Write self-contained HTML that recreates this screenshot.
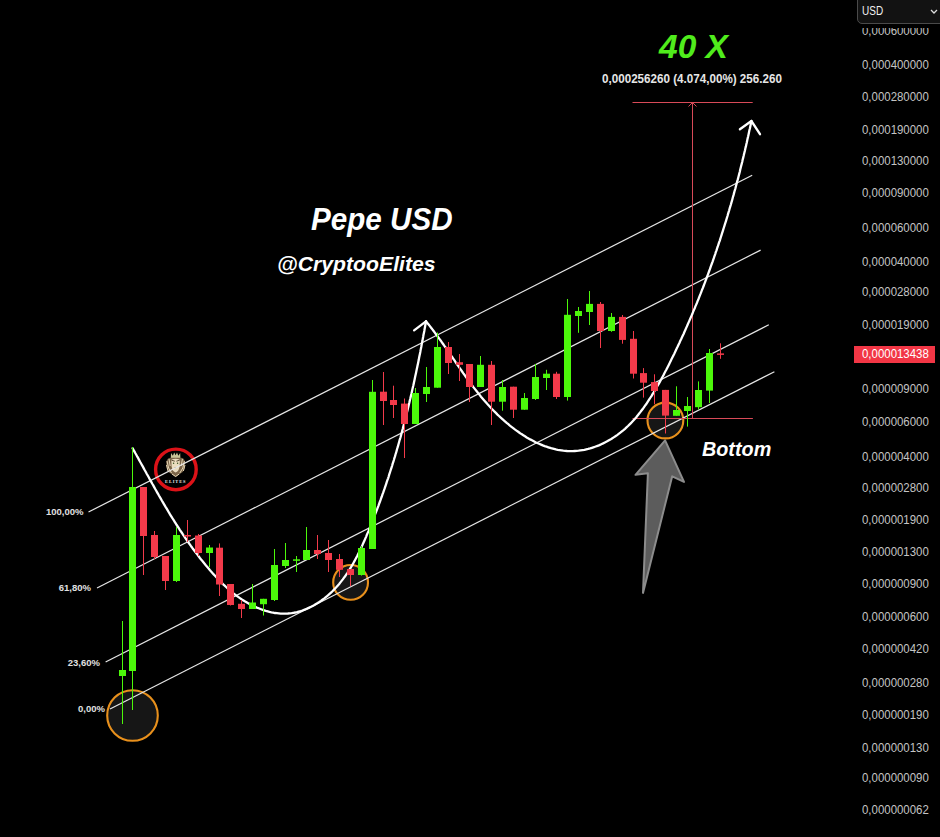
<!DOCTYPE html>
<html><head><meta charset="utf-8"><style>
html,body{margin:0;padding:0;background:#000;}
body{width:940px;height:837px;position:relative;overflow:hidden;font-family:"Liberation Sans",sans-serif;}
svg{position:absolute;left:0;top:0;}
.pl{position:absolute;left:862px;height:14px;line-height:14px;font-size:13px;color:#c4c4c4;white-space:nowrap;transform:scaleX(0.88);transform-origin:0 0;}
.fib{position:absolute;font-size:9.5px;font-weight:bold;color:#e0e0e0;text-align:right;width:60px;line-height:12px;}
.t{position:absolute;white-space:nowrap;font-weight:bold;transform-origin:0 0;}
</style></head><body>
<svg width="940" height="837" viewBox="0 0 940 837">
<circle cx="132.5" cy="715.5" r="25.3" fill="#181818" fill-opacity="0.9" stroke="#e8901c" stroke-width="2.1"/>
<circle cx="350.6" cy="582.4" r="17.4" fill="#181818" fill-opacity="0.9" stroke="#e8901c" stroke-width="2.1"/>
<circle cx="665.4" cy="420.5" r="17.9" fill="#181818" fill-opacity="0.9" stroke="#e8901c" stroke-width="2.1"/>
<circle cx="175.9" cy="469.4" r="20.3" fill="#000" stroke="#dc1218" stroke-width="3.4"/>
<polygon points="170.8,458.5 171,453 172.9,455.8 174.2,452.5 175.6,455.3 177,452.5 178.3,455.8 180.2,453 180.4,458.5" fill="#c9c498"/>
<path d="M166.2,462 Q167.5,457.5 171,457.8 L180.5,457.8 Q184,457.5 185.2,462 L184.6,468.5 Q183.2,472.5 180.5,473.5 L175.6,477 L170.7,473.5 Q168,472.5 166.8,468.5 Z" fill="#7a6448"/>
<path d="M167,461 L168.6,468 L171.5,473 M184.4,461 L182.8,468 L179.8,473 M169,459 L170.2,466 M182.4,459 L181.2,466 M166.5,465 L168,471 M185,465 L183.4,471 M172,474 L175.6,476.5 L179.2,474" stroke="#e6d6b4" stroke-width="1" fill="none"/>
<path d="M171.3,459.8 Q175.6,457.8 179.9,459.8 L179.6,466.5 Q178.6,471.8 175.6,472.5 Q172.6,471.8 171.6,466.5 Z" fill="#eadcbf"/>
<path d="M171.5,460.2 L174.8,461.2 M179.7,460.2 L176.4,461.2" stroke="#3a2a18" stroke-width="0.8"/>
<circle cx="173.6" cy="463.2" r="0.7" fill="#355020"/>
<circle cx="177.6" cy="463.2" r="0.7" fill="#355020"/>
<path d="M174.4,467 L176.8,467 L175.6,468.3 Z" fill="#2a1a10"/>
<text x="175.7" y="483" font-family="Liberation Serif" font-size="4.4" font-weight="bold" fill="#e8e8e8" text-anchor="middle" letter-spacing="0.9">ELITES</text>
<line x1="88.5" y1="512" x2="752.2" y2="175.3" stroke="#e6e6e6" stroke-width="1.2"/>
<line x1="97" y1="588" x2="760.6" y2="250.1" stroke="#e6e6e6" stroke-width="1.2"/>
<line x1="105.6" y1="662" x2="768.8" y2="324.8" stroke="#e6e6e6" stroke-width="1.2"/>
<line x1="110" y1="709" x2="774.4" y2="371.7" stroke="#e6e6e6" stroke-width="1.2"/>
<line x1="632.5" y1="102.5" x2="752.7" y2="102.5" stroke="#d84a58" stroke-width="1"/>
<line x1="632.5" y1="418.5" x2="752.9" y2="418.5" stroke="#d84a58" stroke-width="1"/>
<line x1="692.5" y1="102.5" x2="692.5" y2="418.5" stroke="#d84a58" stroke-width="1"/>
<path d="M688.5,106.5 L692.5,102.5 L696.5,106.5" fill="none" stroke="#d84a58" stroke-width="1"/>
<path d="M132.6,448.2 L133.5,449.9 L134.5,451.6 L135.4,453.3 L136.4,455.0 L137.3,456.7 L138.3,458.4 L139.2,460.1 L140.1,461.8 L141.1,463.5 L142.0,465.2 L143.0,466.9 L143.9,468.6 L144.8,470.3 L145.8,472.0 L146.7,473.7 L147.6,475.3 L148.6,477.0 L149.5,478.7 L150.4,480.4 L151.4,482.1 L152.3,483.8 L153.3,485.4 L154.2,487.1 L155.1,488.8 L156.1,490.5 L157.0,492.1 L158.0,493.8 L158.9,495.5 L159.9,497.1 L160.9,498.8 L161.8,500.5 L162.8,502.1 L163.8,503.8 L164.7,505.4 L165.7,507.1 L166.7,508.7 L167.7,510.4 L168.6,512.0 L169.6,513.7 L170.6,515.3 L171.6,516.9 L172.6,518.5 L173.7,520.2 L174.7,521.8 L175.7,523.4 L176.7,525.0 L177.8,526.6 L178.8,528.2 L179.8,529.8 L180.9,531.4 L182.0,533.0 L183.0,534.6 L184.1,536.2 L185.2,537.8 L186.3,539.4 L187.4,541.0 L188.5,542.5 L189.6,544.1 L190.7,545.7 L191.8,547.2 L192.9,548.8 L194.1,550.3 L195.2,551.9 L196.4,553.4 L197.6,554.9 L198.8,556.5 L199.9,558.0 L201.1,559.5 L202.4,561.0 L203.6,562.5 L204.8,564.0 L206.0,565.5 L207.3,567.0 L208.6,568.5 L209.8,570.0 L211.1,571.5 L212.4,572.9 L213.7,574.4 L215.0,575.8 L216.4,577.3 L217.7,578.7 L219.1,580.1 L220.4,581.5 L221.8,582.9 L223.2,584.3 L224.7,585.6 L226.1,587.0 L227.6,588.3 L229.0,589.6 L230.5,590.9 L232.0,592.1 L233.5,593.4 L235.1,594.6 L236.7,595.8 L238.2,596.9 L239.9,598.1 L241.5,599.2 L243.1,600.2 L244.8,601.3 L246.5,602.3 L248.2,603.3 L249.9,604.2 L251.6,605.1 L253.4,606.0 L255.1,606.8 L256.9,607.6 L258.7,608.3 L260.5,609.0 L262.3,609.7 L264.1,610.3 L265.9,610.9 L267.7,611.4 L269.5,611.9 L271.4,612.3 L273.2,612.6 L275.0,613.0 L276.9,613.2 L278.7,613.4 L280.6,613.6 L282.4,613.6 L284.2,613.7 L286.1,613.6 L287.9,613.5 L289.7,613.3 L291.6,613.1 L293.4,612.8 L295.2,612.5 L297.0,612.1 L298.8,611.6 L300.6,611.1 L302.4,610.5 L304.1,609.8 L305.9,609.2 L307.6,608.4 L309.3,607.6 L311.0,606.8 L312.7,605.9 L314.4,605.0 L316.0,604.0 L317.7,603.0 L319.3,602.0 L320.9,600.9 L322.4,599.8 L324.0,598.6 L325.5,597.4 L327.0,596.2 L328.5,594.9 L329.9,593.6 L331.3,592.3 L332.7,591.0 L334.0,589.6 L335.4,588.2 L336.7,586.8 L337.9,585.4 L339.2,583.9 L340.4,582.4 L341.6,580.9 L342.8,579.4 L343.9,577.9 L345.1,576.3 L346.2,574.7 L347.3,573.1 L348.3,571.5 L349.4,569.9 L350.4,568.2 L351.4,566.5 L352.4,564.8 L353.3,563.2 L354.3,561.4 L355.2,559.7 L356.1,558.0 L357.1,556.2 L357.9,554.5 L358.8,552.7 L359.7,551.0 L360.5,549.2 L361.4,547.4 L362.2,545.6 L363.0,543.8 L363.8,542.0 L364.6,540.2 L365.4,538.4 L366.2,536.6 L366.9,534.7 L367.7,532.9 L368.5,531.1 L369.2,529.3 L370.0,527.5 L370.7,525.6 L371.4,523.8 L372.2,522.0 L372.9,520.2 L373.6,518.4 L374.3,516.5 L375.0,514.7 L375.7,512.9 L376.4,511.1 L377.1,509.3 L377.8,507.4 L378.5,505.6 L379.1,503.8 L379.8,502.0 L380.5,500.2 L381.1,498.3 L381.8,496.5 L382.4,494.7 L383.1,492.9 L383.7,491.1 L384.4,489.2 L385.0,487.4 L385.6,485.6 L386.2,483.8 L386.8,481.9 L387.4,480.1 L388.1,478.3 L388.7,476.5 L389.2,474.6 L389.8,472.8 L390.4,471.0 L391.0,469.2 L391.6,467.3 L392.2,465.5 L392.7,463.7 L393.3,461.8 L393.9,460.0 L394.4,458.2 L395.0,456.4 L395.5,454.5 L396.1,452.7 L396.6,450.9 L397.1,449.0 L397.7,447.2 L398.2,445.4 L398.7,443.5 L399.2,441.7 L399.7,439.8 L400.3,438.0 L400.8,436.2 L401.3,434.3 L401.8,432.5 L402.3,430.6 L402.8,428.8 L403.2,426.9 L403.7,425.1 L404.2,423.2 L404.7,421.4 L405.2,419.5 L405.6,417.7 L406.1,415.8 L406.6,414.0 L407.0,412.1 L407.5,410.3 L407.9,408.4 L408.4,406.6 L408.8,404.7 L409.3,402.8 L409.7,401.0 L410.2,399.1 L410.6,397.3 L411.0,395.4 L411.5,393.5 L411.9,391.7 L412.3,389.8 L412.7,387.9 L413.2,386.0 L413.6,384.2 L414.0,382.3 L414.4,380.4 L414.8,378.5 L415.2,376.6 L415.6,374.8 L416.0,372.9 L416.4,371.0 L416.8,369.1 L417.2,367.2 L417.6,365.3 L418.0,363.4 L418.4,361.5 L418.8,359.6 L419.1,357.7 L419.5,355.8 L419.9,353.9 L420.3,352.0 L420.6,350.1 L421.0,348.2 L421.4,346.3 L421.7,344.4 L422.1,342.5 L422.5,340.6 L422.8,338.7 L423.2,336.7 L423.5,334.8 L423.9,332.9 L424.3,331.0 L424.6,329.0 L425.0,327.1 L425.3,325.2 L425.7,323.2 L426.0,321.3" fill="none" stroke="#fff" stroke-width="2.3" stroke-linecap="round"/>
<path d="M414.1,330.4 L426,321.3" fill="none" stroke="#fff" stroke-width="2.3" stroke-linecap="round" stroke-linejoin="round"/>
<path d="M426.0,321.3 L427.3,322.9 L428.6,324.5 L429.9,326.1 L431.1,327.7 L432.4,329.4 L433.6,331.0 L434.8,332.6 L436.0,334.2 L437.2,335.8 L438.4,337.5 L439.6,339.1 L440.8,340.7 L441.9,342.3 L443.1,344.0 L444.2,345.6 L445.4,347.2 L446.5,348.8 L447.6,350.5 L448.7,352.1 L449.9,353.7 L451.0,355.3 L452.1,357.0 L453.2,358.6 L454.3,360.2 L455.4,361.8 L456.5,363.5 L457.6,365.1 L458.7,366.7 L459.9,368.3 L461.0,369.9 L462.1,371.5 L463.2,373.1 L464.4,374.7 L465.5,376.3 L466.6,377.9 L467.8,379.5 L468.9,381.1 L470.1,382.7 L471.3,384.2 L472.5,385.8 L473.6,387.4 L474.8,388.9 L476.1,390.5 L477.3,392.0 L478.5,393.6 L479.8,395.1 L481.0,396.7 L482.3,398.2 L483.6,399.7 L484.9,401.2 L486.3,402.8 L487.6,404.3 L489.0,405.8 L490.3,407.2 L491.7,408.7 L493.2,410.2 L494.6,411.7 L496.1,413.1 L497.5,414.6 L499.0,416.0 L500.5,417.4 L502.1,418.8 L503.6,420.2 L505.2,421.6 L506.7,422.9 L508.3,424.2 L509.9,425.6 L511.5,426.8 L513.2,428.1 L514.8,429.4 L516.5,430.6 L518.2,431.8 L519.8,433.0 L521.5,434.1 L523.3,435.2 L525.0,436.3 L526.7,437.4 L528.5,438.4 L530.2,439.4 L532.0,440.3 L533.8,441.3 L535.5,442.2 L537.3,443.0 L539.1,443.8 L541.0,444.6 L542.8,445.4 L544.6,446.1 L546.5,446.7 L548.3,447.3 L550.2,447.9 L552.0,448.5 L553.9,448.9 L555.8,449.4 L557.6,449.8 L559.5,450.1 L561.4,450.4 L563.3,450.7 L565.2,450.8 L567.1,451.0 L569.0,451.1 L570.9,451.1 L572.8,451.1 L574.8,451.0 L576.7,450.9 L578.6,450.7 L580.5,450.4 L582.4,450.1 L584.4,449.8 L586.3,449.3 L588.2,448.9 L590.1,448.4 L592.0,447.8 L593.9,447.2 L595.7,446.5 L597.6,445.8 L599.5,445.1 L601.3,444.2 L603.1,443.4 L604.9,442.5 L606.7,441.6 L608.5,440.6 L610.3,439.6 L612.0,438.5 L613.7,437.4 L615.4,436.3 L617.1,435.1 L618.7,433.9 L620.3,432.7 L621.9,431.4 L623.5,430.1 L625.0,428.8 L626.5,427.4 L628.0,426.0 L629.4,424.6 L630.9,423.2 L632.2,421.7 L633.6,420.2 L635.0,418.7 L636.3,417.2 L637.6,415.6 L638.8,414.0 L640.1,412.4 L641.3,410.8 L642.5,409.2 L643.7,407.6 L644.9,405.9 L646.1,404.3 L647.2,402.6 L648.3,400.9 L649.4,399.2 L650.5,397.5 L651.6,395.8 L652.6,394.1 L653.7,392.4 L654.7,390.7 L655.7,389.0 L656.7,387.3 L657.7,385.5 L658.7,383.8 L659.7,382.1 L660.7,380.3 L661.6,378.6 L662.6,376.8 L663.5,375.1 L664.4,373.3 L665.3,371.5 L666.3,369.8 L667.2,368.0 L668.1,366.2 L669.0,364.4 L669.9,362.6 L670.7,360.9 L671.6,359.1 L672.5,357.3 L673.4,355.5 L674.3,353.7 L675.1,351.9 L676.0,350.1 L676.8,348.3 L677.7,346.5 L678.5,344.7 L679.4,342.9 L680.2,341.1 L681.1,339.3 L681.9,337.5 L682.7,335.7 L683.6,333.9 L684.4,332.0 L685.2,330.2 L686.0,328.4 L686.8,326.6 L687.6,324.8 L688.4,322.9 L689.2,321.1 L690.0,319.3 L690.8,317.4 L691.6,315.6 L692.4,313.8 L693.1,311.9 L693.9,310.1 L694.7,308.2 L695.4,306.4 L696.2,304.6 L697.0,302.7 L697.7,300.9 L698.5,299.0 L699.2,297.2 L699.9,295.3 L700.7,293.4 L701.4,291.6 L702.1,289.7 L702.9,287.9 L703.6,286.0 L704.3,284.1 L705.0,282.3 L705.7,280.4 L706.4,278.5 L707.1,276.7 L707.8,274.8 L708.5,272.9 L709.2,271.0 L709.9,269.2 L710.5,267.3 L711.2,265.4 L711.9,263.5 L712.6,261.6 L713.2,259.8 L713.9,257.9 L714.5,256.0 L715.2,254.1 L715.8,252.2 L716.5,250.3 L717.1,248.4 L717.8,246.5 L718.4,244.6 L719.0,242.7 L719.7,240.8 L720.3,238.9 L720.9,237.0 L721.5,235.1 L722.1,233.2 L722.7,231.3 L723.3,229.4 L723.9,227.5 L724.5,225.6 L725.1,223.7 L725.7,221.8 L726.3,219.8 L726.9,217.9 L727.5,216.0 L728.0,214.1 L728.6,212.2 L729.2,210.3 L729.7,208.3 L730.3,206.4 L730.9,204.5 L731.4,202.6 L732.0,200.7 L732.5,198.7 L733.0,196.8 L733.6,194.9 L734.1,192.9 L734.6,191.0 L735.2,189.1 L735.7,187.2 L736.2,185.2 L736.7,183.3 L737.2,181.4 L737.8,179.4 L738.3,177.5 L738.8,175.5 L739.3,173.6 L739.8,171.7 L740.2,169.7 L740.7,167.8 L741.2,165.8 L741.7,163.9 L742.2,162.0 L742.6,160.0 L743.1,158.1 L743.6,156.1 L744.0,154.2 L744.5,152.2 L745.0,150.3 L745.4,148.3 L745.9,146.4 L746.3,144.4 L746.8,142.5 L747.2,140.5 L747.6,138.6 L748.1,136.6 L748.5,134.7 L748.9,132.7 L749.3,130.8 L749.8,128.8 L750.2,126.9 L750.6,124.9 L751.0,123.0 L751.4,121.0" fill="none" stroke="#fff" stroke-width="2.3" stroke-linecap="round"/>
<path d="M739.9,129.3 L751.4,121 L760,134.2" fill="none" stroke="#fff" stroke-width="2.3" stroke-linecap="round" stroke-linejoin="round"/>
<rect x="122" y="621.0" width="1" height="103.0" fill="#4cf80a"/>
<rect x="119" y="670.0" width="7" height="6.0" fill="#4cf80a"/>
<rect x="132" y="447.0" width="1" height="263.0" fill="#4cf80a"/>
<rect x="129" y="487.0" width="7" height="184.0" fill="#4cf80a"/>
<rect x="143" y="487.0" width="1" height="88.0" fill="#f23a4a"/>
<rect x="140" y="487.0" width="7" height="49.0" fill="#f23a4a"/>
<rect x="154" y="531.0" width="1" height="28.0" fill="#f23a4a"/>
<rect x="151" y="535.0" width="7" height="22.0" fill="#f23a4a"/>
<rect x="165" y="556.0" width="1" height="34.0" fill="#f23a4a"/>
<rect x="162" y="556.0" width="7" height="25.0" fill="#f23a4a"/>
<rect x="176" y="527.0" width="1" height="55.0" fill="#4cf80a"/>
<rect x="173" y="535.0" width="7" height="46.0" fill="#4cf80a"/>
<rect x="187" y="520.0" width="1" height="22.0" fill="#f23a4a"/>
<rect x="184" y="535.0" width="7" height="1.5" fill="#f23a4a"/>
<rect x="198" y="534.0" width="1" height="22.0" fill="#f23a4a"/>
<rect x="195" y="535.5" width="7" height="17.5" fill="#f23a4a"/>
<rect x="209" y="545.0" width="1" height="22.0" fill="#4cf80a"/>
<rect x="206" y="547.5" width="7" height="5.5" fill="#4cf80a"/>
<rect x="219" y="543.4" width="1" height="52.6" fill="#f23a4a"/>
<rect x="216" y="547.7" width="7" height="36.8" fill="#f23a4a"/>
<rect x="230" y="584.0" width="1" height="21.5" fill="#f23a4a"/>
<rect x="227" y="584.0" width="7" height="21.0" fill="#f23a4a"/>
<rect x="241" y="600.0" width="1" height="18.0" fill="#f23a4a"/>
<rect x="238" y="603.8" width="7" height="5.2" fill="#f23a4a"/>
<rect x="252" y="584.0" width="1" height="25.0" fill="#4cf80a"/>
<rect x="249" y="602.5" width="7" height="6.5" fill="#4cf80a"/>
<rect x="263" y="598.8" width="1" height="16.7" fill="#4cf80a"/>
<rect x="260" y="598.8" width="7" height="5.4" fill="#4cf80a"/>
<rect x="274" y="549.0" width="1" height="52.0" fill="#4cf80a"/>
<rect x="271" y="565.0" width="7" height="35.0" fill="#4cf80a"/>
<rect x="285" y="543.0" width="1" height="25.0" fill="#4cf80a"/>
<rect x="282" y="560.0" width="7" height="6.0" fill="#4cf80a"/>
<rect x="296" y="556.0" width="1" height="16.0" fill="#4cf80a"/>
<rect x="293" y="559.3" width="7" height="1.5" fill="#4cf80a"/>
<rect x="306" y="527.0" width="1" height="33.0" fill="#4cf80a"/>
<rect x="303" y="550.0" width="7" height="10.0" fill="#4cf80a"/>
<rect x="317" y="535.0" width="1" height="24.0" fill="#f23a4a"/>
<rect x="314" y="550.0" width="7" height="4.0" fill="#f23a4a"/>
<rect x="328" y="540.0" width="1" height="32.0" fill="#f23a4a"/>
<rect x="325" y="553.0" width="7" height="7.0" fill="#f23a4a"/>
<rect x="339" y="554.0" width="1" height="23.0" fill="#f23a4a"/>
<rect x="336" y="559.0" width="7" height="10.8" fill="#f23a4a"/>
<rect x="350" y="569.0" width="1" height="17.0" fill="#f23a4a"/>
<rect x="347" y="569.0" width="7" height="6.0" fill="#f23a4a"/>
<rect x="361" y="546.0" width="1" height="29.6" fill="#4cf80a"/>
<rect x="358" y="548.0" width="7" height="27.0" fill="#4cf80a"/>
<rect x="372" y="380.0" width="1" height="169.0" fill="#4cf80a"/>
<rect x="369" y="391.8" width="7" height="157.2" fill="#4cf80a"/>
<rect x="383" y="372.0" width="1" height="53.0" fill="#f23a4a"/>
<rect x="380" y="391.7" width="7" height="9.3" fill="#f23a4a"/>
<rect x="393" y="385.7" width="1" height="32.3" fill="#f23a4a"/>
<rect x="390" y="400.0" width="7" height="5.0" fill="#f23a4a"/>
<rect x="404" y="398.5" width="1" height="59.5" fill="#f23a4a"/>
<rect x="401" y="403.6" width="7" height="20.4" fill="#f23a4a"/>
<rect x="415" y="388.0" width="1" height="36.0" fill="#4cf80a"/>
<rect x="412" y="393.0" width="7" height="31.0" fill="#4cf80a"/>
<rect x="426" y="367.0" width="1" height="35.0" fill="#4cf80a"/>
<rect x="423" y="387.0" width="7" height="7.0" fill="#4cf80a"/>
<rect x="437" y="332.5" width="1" height="55.2" fill="#4cf80a"/>
<rect x="434" y="347.0" width="7" height="40.7" fill="#4cf80a"/>
<rect x="448" y="342.0" width="1" height="32.0" fill="#f23a4a"/>
<rect x="445" y="347.0" width="7" height="16.0" fill="#f23a4a"/>
<rect x="459" y="354.0" width="1" height="27.0" fill="#f23a4a"/>
<rect x="456" y="362.2" width="7" height="2.6" fill="#f23a4a"/>
<rect x="469" y="364.0" width="1" height="38.0" fill="#f23a4a"/>
<rect x="466" y="364.0" width="7" height="23.0" fill="#f23a4a"/>
<rect x="480" y="356.0" width="1" height="31.0" fill="#4cf80a"/>
<rect x="477" y="364.8" width="7" height="22.2" fill="#4cf80a"/>
<rect x="491" y="361.0" width="1" height="64.0" fill="#f23a4a"/>
<rect x="488" y="364.8" width="7" height="36.9" fill="#f23a4a"/>
<rect x="502" y="380.0" width="1" height="30.7" fill="#4cf80a"/>
<rect x="499" y="387.0" width="7" height="14.7" fill="#4cf80a"/>
<rect x="513" y="386.7" width="1" height="31.3" fill="#f23a4a"/>
<rect x="510" y="386.7" width="7" height="23.0" fill="#f23a4a"/>
<rect x="524" y="393.0" width="1" height="16.7" fill="#4cf80a"/>
<rect x="521" y="398.0" width="7" height="11.7" fill="#4cf80a"/>
<rect x="535" y="364.0" width="1" height="36.0" fill="#4cf80a"/>
<rect x="532" y="377.0" width="7" height="22.0" fill="#4cf80a"/>
<rect x="546" y="369.8" width="1" height="20.2" fill="#4cf80a"/>
<rect x="543" y="373.7" width="7" height="4.3" fill="#4cf80a"/>
<rect x="556" y="371.8" width="1" height="27.2" fill="#f23a4a"/>
<rect x="553" y="373.7" width="7" height="23.3" fill="#f23a4a"/>
<rect x="567" y="299.0" width="1" height="101.6" fill="#4cf80a"/>
<rect x="564" y="314.8" width="7" height="82.2" fill="#4cf80a"/>
<rect x="578" y="307.0" width="1" height="25.8" fill="#4cf80a"/>
<rect x="575" y="311.0" width="7" height="5.0" fill="#4cf80a"/>
<rect x="589" y="291.0" width="1" height="34.0" fill="#4cf80a"/>
<rect x="586" y="303.9" width="7" height="8.1" fill="#4cf80a"/>
<rect x="600" y="302.0" width="1" height="46.0" fill="#f23a4a"/>
<rect x="597" y="303.9" width="7" height="27.1" fill="#f23a4a"/>
<rect x="611" y="313.0" width="1" height="18.8" fill="#4cf80a"/>
<rect x="608" y="316.9" width="7" height="14.1" fill="#4cf80a"/>
<rect x="622" y="315.0" width="1" height="28.7" fill="#f23a4a"/>
<rect x="619" y="316.9" width="7" height="23.0" fill="#f23a4a"/>
<rect x="633" y="331.0" width="1" height="47.5" fill="#f23a4a"/>
<rect x="630" y="338.8" width="7" height="34.9" fill="#f23a4a"/>
<rect x="643" y="368.1" width="1" height="29.5" fill="#f23a4a"/>
<rect x="640" y="373.1" width="7" height="9.6" fill="#f23a4a"/>
<rect x="654" y="374.3" width="1" height="29.9" fill="#f23a4a"/>
<rect x="651" y="382.1" width="7" height="8.9" fill="#f23a4a"/>
<rect x="665" y="389.9" width="1" height="43.6" fill="#f23a4a"/>
<rect x="662" y="389.9" width="7" height="25.7" fill="#f23a4a"/>
<rect x="676" y="386.3" width="1" height="29.5" fill="#4cf80a"/>
<rect x="673" y="410.0" width="7" height="5.8" fill="#4cf80a"/>
<rect x="687" y="397.0" width="1" height="29.6" fill="#4cf80a"/>
<rect x="684" y="406.0" width="7" height="5.0" fill="#4cf80a"/>
<rect x="698" y="381.4" width="1" height="28.0" fill="#4cf80a"/>
<rect x="695" y="390.0" width="7" height="17.2" fill="#4cf80a"/>
<rect x="709" y="349.0" width="1" height="54.0" fill="#4cf80a"/>
<rect x="706" y="353.0" width="7" height="37.6" fill="#4cf80a"/>
<rect x="720" y="343.3" width="1" height="15.5" fill="#f23a4a"/>
<rect x="717" y="353.4" width="7" height="1.5" fill="#f23a4a"/>
<polygon points="665.1,440.4 684,481.9 672.2,476.3 643,592.9 647.9,473.3 635.5,474.8" fill="#5c5c5c" stroke="#8c8c8c" stroke-width="2" stroke-linejoin="round"/>

</svg>
<div style="position:absolute;left:850px;top:28px;width:90px;height:12px;overflow:hidden"><div class="pl" style="left:12px;top:-4.5px">0,000600000</div></div>
<div class="pl" style="top:58.3px">0,000400000</div>
<div class="pl" style="top:89.9px">0,000280000</div>
<div class="pl" style="top:122.7px">0,000190000</div>
<div class="pl" style="top:154.0px">0,000130000</div>
<div class="pl" style="top:185.6px">0,000090000</div>
<div class="pl" style="top:220.7px">0,000060000</div>
<div class="pl" style="top:255.1px">0,000040000</div>
<div class="pl" style="top:284.5px">0,000028000</div>
<div class="pl" style="top:317.9px">0,000019000</div>
<div class="pl" style="top:381.5px">0,000009000</div>
<div class="pl" style="top:414.9px">0,000006000</div>
<div class="pl" style="top:450.1px">0,000004000</div>
<div class="pl" style="top:480.9px">0,000002800</div>
<div class="pl" style="top:513.3px">0,000001900</div>
<div class="pl" style="top:545.3px">0,000001300</div>
<div class="pl" style="top:576.9px">0,000000900</div>
<div class="pl" style="top:609.8px">0,000000600</div>
<div class="pl" style="top:641.8px">0,000000420</div>
<div class="pl" style="top:675.6px">0,000000280</div>
<div class="pl" style="top:707.6px">0,000000190</div>
<div class="pl" style="top:740.5px">0,000000130</div>
<div class="pl" style="top:771.2px">0,000000090</div>
<div class="pl" style="top:802.8px">0,000000062</div>
<div style="position:absolute;left:857px;top:-5px;width:90px;height:29px;box-sizing:border-box;background:#121212;border:1px solid #4a4a4a;border-radius:5px;"></div>
<div style="position:absolute;left:861.5px;top:4px;font-size:12.5px;line-height:14px;color:#f0f0f0;transform:scaleX(0.8);transform-origin:0 0;">USD</div>
<svg style="left:930px;top:9px" width="8" height="5" viewBox="0 0 8 5"><path d="M1,1 L4,4 L7,1" fill="none" stroke="#ddd" stroke-width="1.3"/></svg>
<div style="position:absolute;left:854px;top:346px;width:81px;height:17px;background:#f23645;"></div>
<div class="pl" style="top:346.5px;color:#fff">0,000013438</div>
<div class="fib" style="left:23.5px;top:506px">100,00%</div>
<div class="fib" style="left:31px;top:581.5px">61,80%</div>
<div class="fib" style="left:40px;top:656.5px">23,60%</div>
<div class="fib" style="left:45px;top:703px">0,00%</div>
<div class="t" style="left:659px;top:29px;font-size:33.5px;line-height:36px;font-style:italic;color:#50ec1c;">40 X</div>
<div class="t" style="left:602px;top:70.8px;font-size:12px;line-height:16px;color:#e6e6e6;transform:scaleX(0.97);">0,000256260 (4.074,00%) 256.260</div>
<div class="t" style="left:310.5px;top:200.5px;font-size:31.5px;line-height:36px;font-style:italic;color:#fff;transform:scaleX(0.94);">Pepe USD</div>
<div class="t" style="left:277px;top:252px;font-size:21px;line-height:24px;font-style:italic;color:#fff;transform:scaleX(1.01);">@CryptooElites</div>
<div class="t" style="left:701.5px;top:437.6px;font-size:20.5px;line-height:22px;font-style:italic;color:#fff;transform:scaleX(0.965);">Bottom</div>
</body></html>
